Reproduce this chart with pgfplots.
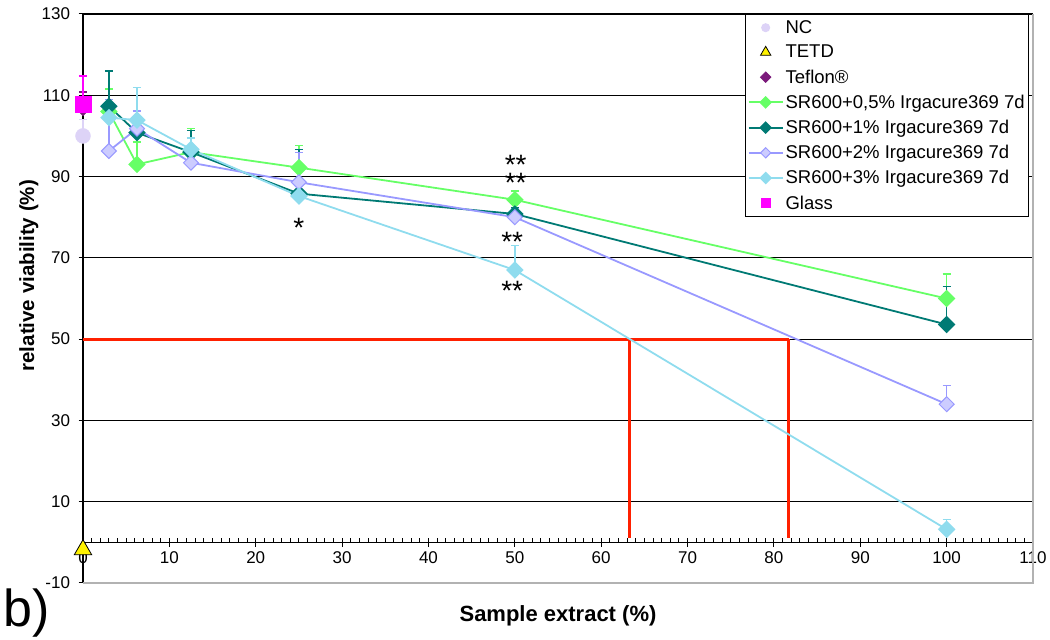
\documentclass[border=0pt]{standalone}
\usepackage{pgfplots}
\pgfplotsset{compat=1.18}
\usepackage{fontspec}
\setmainfont{Liberation Sans}
\definecolor{cGreen}{HTML}{66FF66}
\definecolor{cTeal}{HTML}{007A74}
\definecolor{cLavL}{HTML}{9999FF}
\definecolor{cLavF}{HTML}{CCCCFF}
\definecolor{cCyan}{HTML}{8FDCEE}
\definecolor{cNC}{HTML}{DDD3F7}
\definecolor{cTef}{HTML}{7B1A7B}
\definecolor{cGlass}{HTML}{FF00FF}
\definecolor{cRed}{HTML}{FF2000}
\pgfplotsset{
  errstyle/.style={error bars/y dir=plus, error bars/y explicit,
    error bars/error bar style={#1, line width=1.5pt},
    error bars/error mark options={#1, line width=1.5pt, mark size=4pt, rotate=90}},
}
\begin{document}
\begin{tikzpicture}
\begin{axis}[
 scale only axis, width=950pt, height=569pt,
 xmin=0, xmax=110, ymin=-10, ymax=130,
 axis x line=middle, axis y line=left,
 axis line style={-, black, line width=1.2pt},
 hide obscured x ticks=false,
 xtick={0,10,...,110}, ytick={-10,10,...,130},
 minor x tick num=9,
 tick align=center,
 major tick length=9pt, minor tick length=4pt,
 every tick/.style={black, line width=1pt},
 minor tick style={yshift=2pt},
 ymajorgrids, grid style={black, line width=1.2pt},
 /pgf/number format/assume math mode=true,
 tick label style={font=\fontsize{17}{20}\selectfont},
 xticklabel style={yshift=-1pt},
 yticklabel style={xshift=-5pt},
 xlabel={\textbf{Sample extract (\%)}},
 ylabel={\textbf{relative viability (\%)}},
 xlabel style={at={(axis description cs:0.5,0)}, anchor=north, yshift=-19pt, font=\fontsize{22}{24}\selectfont},
 ylabel style={at={(axis description cs:-0.057,0.54)}, anchor=center, font=\fontsize{20.5}{24}\selectfont},
 legend style={at={(rel axis cs:0.996,1)}, anchor=north east, draw=black, line width=1pt, fill=white,
   font=\fontsize{18.5}{21}\selectfont, row sep=6.3pt, inner xsep=2pt, inner ysep=4pt},
 legend cell align=left,
 legend image code/.code={\draw[mark repeat=2, mark phase=2] plot coordinates {(0pt,0pt) (17pt,0pt) (34pt,0pt)};},
 clip=false,
]
\coordinate (LL) at (rel axis cs:0,0);
\coordinate (UR) at (rel axis cs:1,1);
% red guide lines
\addplot[cRed, line width=3pt, forget plot] coordinates {(0,50) (81.7,50)};
\addplot[cRed, line width=3pt, forget plot] coordinates {(63.3,50) (63.3,1)};
\addplot[cRed, line width=3pt, forget plot] coordinates {(81.7,50) (81.7,1)};
% NC
\addplot[only marks, mark=*, mark size=7.5pt, color=cNC, errstyle=cNC,
  legend image post style={mark size=4pt}]
  coordinates {(0,100) +- (0,4)};
\addlegendentry{NC}
% TETD
\addplot[only marks, mark=triangle*, mark size=10pt, mark options={fill=yellow, draw=black, line width=0.8pt},
  legend image post style={mark size=6pt}]
  coordinates {(0,-1.8)};
\addlegendentry{TETD}
% Teflon
\addplot[only marks, mark=square*, mark size=4.5pt, mark options={rotate=45}, color=cTef, errstyle=cTef,
  legend image post style={mark size=3.6pt}]
  coordinates {(0,106.5) +- (0,4.3)};
\addlegendentry{Teflon®}
% SR600 + 0.5%
\addplot[cGreen, line width=1.8pt, mark=square*, mark size=5.3pt, mark options={rotate=45, fill=cGreen, draw=cGreen},
  errstyle=cGreen, legend image post style={mark size=3.6pt}]
  coordinates {(3,106) +- (0,5.5) (6.25,93) +- (0,5.5) (12.5,96) +- (0,5.8) (25,92.2) +- (0,5.5) (50,84.3) +- (0,2.1) (100,60) +- (0,6)};
\addlegendentry{SR600+0,5\% Irgacure369 7d}
% SR600 + 1%
\addplot[cTeal, line width=1.8pt, mark=square*, mark size=5.3pt, mark options={rotate=45, fill=cTeal, draw=cTeal},
  errstyle=cTeal, legend image post style={mark size=3.6pt}]
  coordinates {(3,107.3) +- (0,8.7) (6.25,100.8) +- (0,3) (12.5,96) +- (0,5.3) (25,85.8) +- (0,10.9) (50,80.8) +- (0,1.5) (100,53.6) +- (0,9.4)};
\addlegendentry{SR600+1\% Irgacure369 7d}
% SR600 + 2%
\addplot[cLavL, line width=1.8pt, mark=square*, mark size=5.3pt, mark options={rotate=45, fill=cLavF, draw=cLavL, line width=1pt},
  errstyle=cLavL, legend image post style={mark size=3.6pt}]
  coordinates {(3,96.3) +- (0,12.7) (6.25,101.8) +- (0,4.3) (12.5,93.4) +- (0,3.6) (25,88.6) +- (0,7.3) (50,80) +- (0,2) (100,34) +- (0,4.6)};
\addlegendentry{SR600+2\% Irgacure369 7d}
% SR600 + 3%
\addplot[cCyan, line width=1.8pt, mark=square*, mark size=5.3pt, mark options={rotate=45, fill=cCyan, draw=cCyan},
  errstyle=cCyan, legend image post style={mark size=3.6pt}]
  coordinates {(3,104.5) +- (0,3.5) (6.25,103.9) +- (0,8) (12.5,96.7) +- (0,2.8) (25,85.2) +- (0,3) (50,67) +- (0,6.1) (100,3.2) +- (0,2.4)};
\addlegendentry{SR600+3\% Irgacure369 7d}
% Glass
\addplot[only marks, mark=square*, mark size=8pt, color=cGlass, errstyle=cGlass,
  legend image post style={mark size=4.5pt}]
  coordinates {(0,107.8) +- (0,7)};
\addlegendentry{Glass}
% significance stars
\node[anchor=base, inner sep=0, font=\fontsize{28}{30}\selectfont, yshift=-16pt] at (axis cs:25,79) {*};
\node[anchor=base, inner sep=0, font=\fontsize{28}{30}\selectfont, yshift=-16pt] at (axis cs:50.1,94.5) {**};
\node[anchor=base, inner sep=0, font=\fontsize{28}{30}\selectfont, yshift=-16pt] at (axis cs:50.1,89.9) {**};
\node[anchor=base, inner sep=0, font=\fontsize{28}{30}\selectfont, yshift=-16pt] at (axis cs:49.7,75.5) {**};
\node[anchor=base, inner sep=0, font=\fontsize{28}{30}\selectfont, yshift=-16pt] at (axis cs:49.7,63.4) {**};
% gray borders
\draw[gray!60, line width=1.5pt] (rel axis cs:0,0) -- (rel axis cs:1,0) -- (rel axis cs:1,1);
\end{axis}
\node[anchor=base west, inner sep=0, font=\fontsize{52}{56}\selectfont] at ([xshift=-80pt,yshift=-44pt]LL) {b)};
\pgfresetboundingbox
\path[use as bounding box] ([xshift=-83pt,yshift=-57pt]LL) rectangle ([xshift=17pt,yshift=14pt]UR);
\end{tikzpicture}
\end{document}
